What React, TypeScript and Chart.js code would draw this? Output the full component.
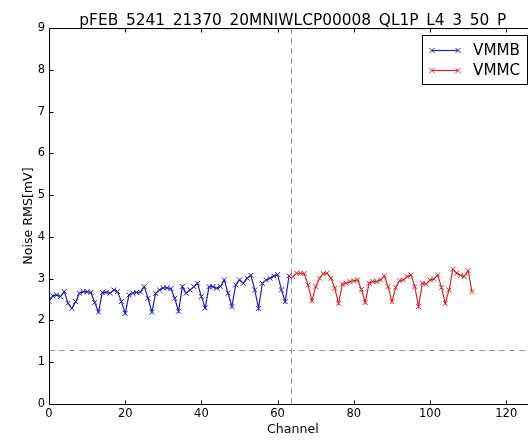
import React, { useEffect, useRef } from "react";
import { Chart, registerables } from "chart.js";

Chart.register(...registerables);

const TITLE = "pFEB_5241_21370_20MNIWLCP00008_QL1P_L4_3_50_P";
const X_LABEL = "Channel";
const Y_LABEL = "Noise RMS[mV]";
const SERIES_NAMES = ["VMMB", "VMMC"];

const VMMB_START = 0;
const VMMB = [
  2.46, 2.59, 2.61, 2.57, 2.69, 2.41, 2.29, 2.45, 2.65, 2.69,
  2.69, 2.67, 2.43, 2.2, 2.67, 2.67, 2.65, 2.73, 2.69, 2.45,
  2.17, 2.61, 2.65, 2.67, 2.68, 2.81, 2.53, 2.2, 2.65, 2.73,
  2.78, 2.78, 2.76, 2.53, 2.22, 2.81, 2.65, 2.73, 2.81, 2.89,
  2.57, 2.3, 2.81, 2.81, 2.77, 2.81, 2.97, 2.65, 2.33, 2.85,
  2.97, 2.89, 3.01, 3.08, 2.73, 2.29, 2.89, 2.97, 3.01, 3.06,
  3.1, 2.73, 2.45, 3.07,
];

const VMMC_START = 64;
const VMMC = [
  3.05, 3.13, 3.13, 3.12, 2.85, 2.47, 2.81, 3.01, 3.12, 3.13,
  3.01, 2.77, 2.41, 2.87, 2.89, 2.93, 2.95, 2.97, 2.74, 2.43,
  2.89, 2.93, 2.93, 2.97, 3.07, 2.81, 2.45, 2.79, 2.95, 2.97,
  3.05, 3.09, 2.81, 2.33, 2.89, 2.87, 2.97, 2.99, 3.09, 2.79,
  2.41, 2.73, 3.22, 3.13, 3.08, 3.05, 3.19, 2.69,
];

const X_TICKS = [0, 20, 40, 60, 80, 100, 120];
const Y_TICKS = [0, 1, 2, 3, 4, 5, 6, 7, 8, 9];
const X_MIN = 0;
const X_MAX = 128;
const Y_MIN = 0;
const Y_MAX = 9;
const VLINE_X = 63.5;
const HLINE_Y = 1.3;

const COLORS = ["#1f1fb4", "#d42626"];
const W = 545;
const H = 441;
const FONT = '"DejaVu Sans", sans-serif';

function drawX(ctx: CanvasRenderingContext2D, x: number, y: number, r: number) {
  ctx.beginPath();
  ctx.moveTo(x - r, y - r);
  ctx.lineTo(x + r, y + r);
  ctx.moveTo(x - r, y + r);
  ctx.lineTo(x + r, y - r);
  ctx.stroke();
}

export default function App() {
  const ref = useRef<HTMLCanvasElement>(null);

  useEffect(() => {
    const canvas = ref.current;
    if (!canvas) return;

    const deco = {
      id: "deco",
      beforeDatasetsDraw(chart: any) {
        const { ctx, chartArea } = chart;
        const xs = chart.scales.x;
        const ys = chart.scales.y;
        ctx.save();
        ctx.strokeStyle = "#9a9a9a";
        ctx.lineWidth = 1;
        ctx.setLineDash([6, 4]);
        const vx = Math.round(xs.getPixelForValue(VLINE_X)) + 0.5;
        ctx.beginPath();
        ctx.moveTo(vx, chartArea.top);
        ctx.lineTo(vx, chartArea.bottom);
        ctx.stroke();
        const hy = Math.round(ys.getPixelForValue(HLINE_Y)) + 0.5;
        ctx.beginPath();
        ctx.moveTo(chartArea.left, hy);
        ctx.lineTo(chartArea.right, hy);
        ctx.stroke();
        ctx.restore();
      },
      afterDraw(chart: any) {
        const { ctx, chartArea } = chart;
        const xs = chart.scales.x;
        const ys = chart.scales.y;
        const L = Math.round(chartArea.left) + 0.5;
        const T = Math.round(chartArea.top) + 0.5;
        const B = Math.round(chartArea.bottom) + 0.5;
        const R = chartArea.right;
        ctx.save();
        ctx.strokeStyle = "#000";
        ctx.lineWidth = 1;
        // spines
        ctx.beginPath();
        ctx.moveTo(L, B);
        ctx.lineTo(L, T);
        ctx.lineTo(R, T);
        ctx.moveTo(L, B);
        ctx.lineTo(R, B);
        ctx.moveTo(R, T);
        ctx.lineTo(R, B);
        ctx.stroke();
        // inward ticks
        ctx.beginPath();
        for (const t of X_TICKS) {
          const px = Math.round(xs.getPixelForValue(t)) + 0.5;
          ctx.moveTo(px, B);
          ctx.lineTo(px, B - 4);
          ctx.moveTo(px, T);
          ctx.lineTo(px, T + 4);
        }
        for (const t of Y_TICKS) {
          const py = Math.round(ys.getPixelForValue(t)) + 0.5;
          ctx.moveTo(L, py);
          ctx.lineTo(L + 4, py);
          ctx.moveTo(R, py);
          ctx.lineTo(R - 4, py);
        }
        ctx.stroke();

        // title
        const cx = (chartArea.left + chartArea.right) / 2;
        ctx.fillStyle = "#000";
        ctx.textAlign = "center";
        ctx.textBaseline = "alphabetic";
        ctx.font = `15.4px ${FONT}`;
        ctx.fillText(TITLE, cx, 24.5);
        // x label
        ctx.font = `12.6px ${FONT}`;
        ctx.fillText(X_LABEL, cx, 433);
        // y label
        ctx.save();
        ctx.translate(31.5, (chartArea.top + chartArea.bottom) / 2);
        ctx.rotate(-Math.PI / 2);
        ctx.fillText(Y_LABEL, 0, 0);
        ctx.restore();

        // legend
        ctx.fillStyle = "#fff";
        ctx.fillRect(422, 35, 106, 50);
        ctx.strokeStyle = "#000";
        ctx.strokeRect(422.5, 35.5, 105, 49);
        const rows = [50.5, 70.5];
        SERIES_NAMES.forEach((name, i) => {
          const y = rows[i];
          ctx.strokeStyle = COLORS[i];
          ctx.lineWidth = 1.2;
          ctx.beginPath();
          ctx.moveTo(432, y);
          ctx.lineTo(458, y);
          ctx.stroke();
          ctx.lineWidth = 1;
          drawX(ctx, 432, y, 2.5);
          drawX(ctx, 458, y, 2.5);
          ctx.fillStyle = "#000";
          ctx.font = `15.2px ${FONT}`;
          ctx.textAlign = "left";
          ctx.textBaseline = "middle";
          ctx.fillText(name, 473, y + 1);
        });
        ctx.restore();
      },
    };

    const toPoints = (arr: number[], start: number) =>
      arr.map((v, i) => ({ x: start + i, y: v }));

    const chart = new Chart(canvas, {
      type: "line",
      data: {
        datasets: [
          {
            label: SERIES_NAMES[0],
            data: toPoints(VMMB, VMMB_START),
            borderColor: COLORS[0],
            backgroundColor: COLORS[0],
            borderWidth: 1.2,
            pointStyle: "crossRot",
            pointRadius: 3.5,
            pointBorderWidth: 1,
            pointBorderColor: COLORS[0],
            tension: 0,
            fill: false,
          },
          {
            label: SERIES_NAMES[1],
            data: toPoints(VMMC, VMMC_START),
            borderColor: COLORS[1],
            backgroundColor: COLORS[1],
            borderWidth: 1.2,
            pointStyle: "crossRot",
            pointRadius: 3.5,
            pointBorderWidth: 1,
            pointBorderColor: COLORS[1],
            tension: 0,
            fill: false,
          },
        ],
      },
      options: {
        responsive: false,
        animation: false,
        devicePixelRatio: 1,
        layout: { padding: { top: 28, right: W - 536.7, left: 0, bottom: 0 } },
        plugins: {
          legend: { display: false },
          title: { display: false },
          tooltip: { enabled: false },
        },
        scales: {
          x: {
            type: "linear",
            min: X_MIN,
            max: X_MAX,
            grid: { display: false, drawTicks: false },
            border: { display: false },
            ticks: {
              stepSize: 20,
              includeBounds: false,
              autoSkip: false,
              maxRotation: 0,
              padding: 3,
              color: "#000",
              font: { family: "DejaVu Sans", size: 11.5 },
            },
            afterFit: (s: any) => {
              s.height = 37;
            },
          },
          y: {
            type: "linear",
            min: Y_MIN,
            max: Y_MAX,
            grid: { display: false, drawTicks: false },
            border: { display: false },
            ticks: {
              stepSize: 1,
              padding: 4,
              color: "#000",
              font: { family: "DejaVu Sans", size: 11.5 },
            },
            afterFit: (s: any) => {
              s.width = 49;
            },
          },
        },
      },
      plugins: [deco],
    });

    return () => chart.destroy();
  }, []);

  return (
    <div
      style={{
        position: "fixed",
        left: 0,
        top: 0,
        width: 528,
        height: 441,
        overflow: "hidden",
        background: "#fff",
      }}
    >
      <canvas ref={ref} width={W} height={H} style={{ display: "block", width: W, height: H }} />
    </div>
  );
}
